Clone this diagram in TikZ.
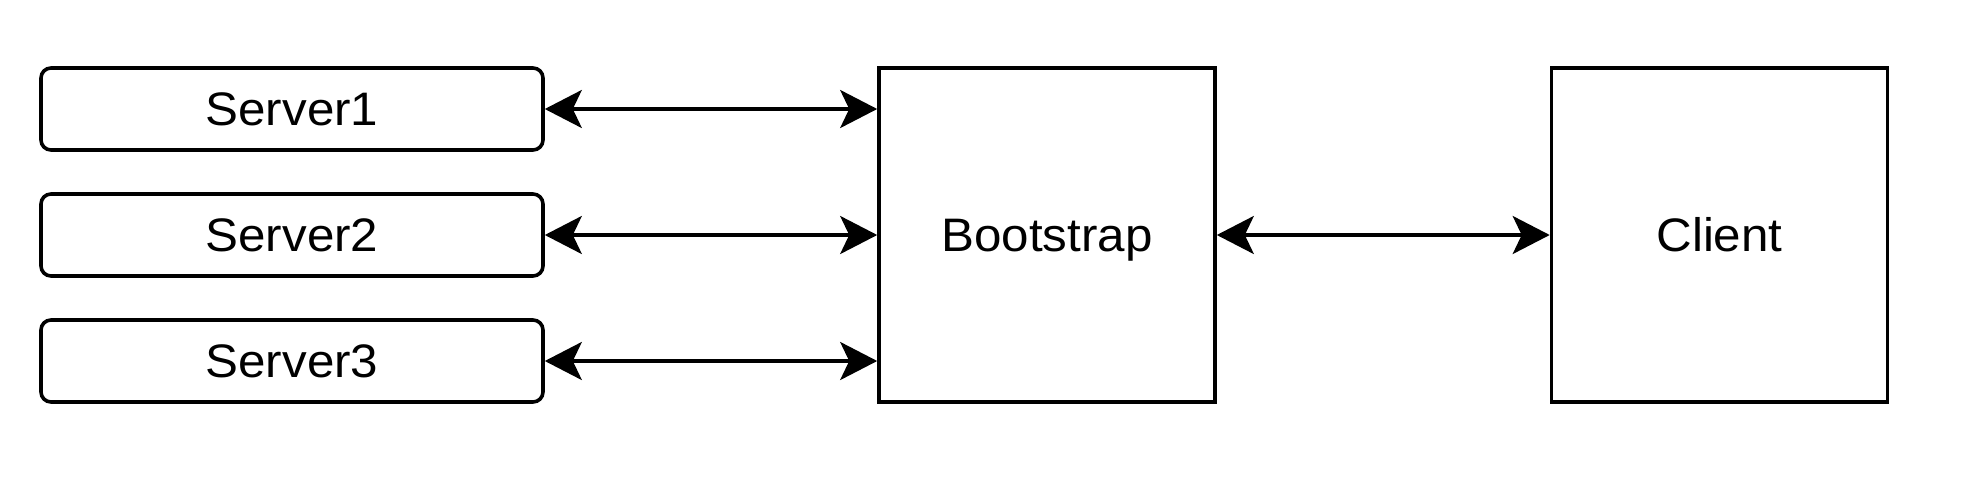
\documentclass[tikz,border=0pt]{standalone}
\usepackage{fontspec}
\setmainfont{Liberation Sans}[FakeStretch=1.05]
\usetikzlibrary{arrows.meta}
\begin{document}
\begin{tikzpicture}[x=1pt,y=-1pt,
  box/.style={draw=black,line width=3.6pt,fill=white,inner sep=0pt,text height=32pt,text depth=0pt,font=\fontsize{47}{54}\selectfont},
  srv/.style={box,rounded corners=10pt,minimum width=502pt,minimum height=82pt},
  big/.style={box,minimum width=336pt,minimum height=334pt},
  link/.style={line width=3.2pt,{Stealth[length=37pt,width=38pt,inset=9pt]}-{Stealth[length=37pt,width=38pt,inset=9pt]}}]
\useasboundingbox (0,0) rectangle (1962,480);
\node[srv] (s1) at (292,109) {Server1};
\node[srv] (s2) at (292,235) {Server2};
\node[srv] (s3) at (292,361) {Server3};
\node[big] (b) at (1047,235) {Bootstrap};
\node[big] (c) at (1719.5,235) {Client};
\draw[link] (s1.east) -- (s1.east -| b.west);
\draw[link] (s2.east) -- (b.west);
\draw[link] (s3.east) -- (s3.east -| b.west);
\draw[link] (b.east) -- (c.west);
\end{tikzpicture}
\end{document}
